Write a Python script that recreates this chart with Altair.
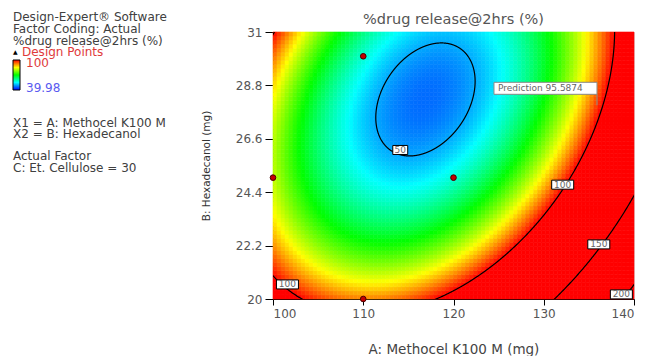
import numpy as np
import pandas as pd
import altair as alt

alt.data_transformers.disable_max_rows()

# Fitted quadratic model for %drug release@2hrs in coded factors
# a = (A - 110) / 10, b = (B - 25) / 5, Et. Cellulose held at 30
A_CENTER, A_HALF = 110.0, 10.0
B_CENTER, B_HALF = 25.0, 5.0
coef_names = ["Intercept", "A", "B", "AB", "A^2", "B^2"]
coef_values = [56.08, -12.12, -17.40, -10.35, 13.63, 19.04]

# design points
design_A = [110, 100, 120, 110]
design_B = [30, 25, 25, 20]

# contour levels and their label anchors
contour_levels = [50, 100, 150, 200]
label_text = ["50", "100", "100", "150", "200"]
label_A = [114.1, 101.6, 132.1, 136.1, 138.6]
label_B = [26.14, 20.6, 24.71, 22.25, 20.19]

# flagged prediction
pred_A = 135.9
pred_B = 27.98
pred_value = 95.5874

x_ticks = [100, 110, 120, 130, 140]
y_ticks = [20, 22.2, 24.4, 26.6, 28.8, 31]
A_range = [100, 140]
B_range = [20, 31]

resp_min, resp_max = 39.98, 100
palette = ["#0000ff", "#00ffff", "#00ff00", "#ffff00", "#ff0000"]

FONT = "DejaVu Sans"


def predict(A, B):
    a = (np.asarray(A) - A_CENTER) / A_HALF
    b = (np.asarray(B) - B_CENTER) / B_HALF
    c = coef_values
    return c[0] + c[1] * a + c[2] * b + c[3] * a * b + c[4] * a * a + c[5] * b * b


# surface grid
nA, nB = 90, 66
a_edges = np.linspace(A_range[0], A_range[1], nA + 1)
b_edges = np.linspace(B_range[0], B_range[1], nB + 1)
rows = []
for i in range(nA):
    for j in range(nB):
        ac = 0.5 * (a_edges[i] + a_edges[i + 1])
        bc = 0.5 * (b_edges[j] + b_edges[j + 1])
        rows.append((a_edges[i], a_edges[i + 1], b_edges[j], b_edges[j + 1], float(predict(ac, bc))))
grid = pd.DataFrame(rows, columns=["A", "A_hi", "B", "B_hi", "value"])

# contour ellipses of the quadratic around its stationary point
c = coef_values
H = np.array([[2 * c[4], c[3]], [c[3], 2 * c[5]]])
ctr = np.linalg.solve(H, [-c[1], -c[2]])
f_min = c[0] + 0.5 * (c[1] * ctr[0] + c[2] * ctr[1])
theta = np.linspace(0, 2 * np.pi, 1441)
dx, dy = np.cos(theta), np.sin(theta)
qd = c[4] * dx * dx + c[3] * dx * dy + c[5] * dy * dy
parts = []
for lev in contour_levels:
    r = np.sqrt((lev - f_min) / qd)
    parts.append(pd.DataFrame({
        "A": A_CENTER + A_HALF * (ctr[0] + r * dx),
        "B": B_CENTER + B_HALF * (ctr[1] + r * dy),
        "level": lev,
        "idx": np.arange(len(theta)),
    }))
contours = pd.concat(parts, ignore_index=True)

xs = alt.Scale(domain=A_range, nice=False, zero=False)
ys = alt.Scale(domain=B_range, nice=False, zero=False)
x_axis = alt.Axis(values=x_ticks, title="A: Methocel K100 M (mg)",
                  labelExpr="'' + datum.value",
                  domainColor="black", tickColor="black", tickSize=6,
                  labelFont=FONT, labelFontSize=12, labelColor="#555", labelPadding=3,
                  titleFont=FONT, titleFontSize=13.5, titleFontWeight="normal",
                  titleColor="#444", titlePadding=23, grid=False)
y_axis = alt.Axis(values=y_ticks, title="B: Hexadecanol (mg)",
                  labelExpr="'' + datum.value",
                  domainColor="black", tickColor="black", tickSize=8,
                  labelFont=FONT, labelFontSize=12, labelColor="#555", labelPadding=3,
                  titleFont=FONT, titleFontSize=10.5, titleFontWeight="normal",
                  titleColor="#333", titlePadding=24, grid=False)

X = lambda f="A": alt.X(f"{f}:Q", scale=xs, axis=x_axis)
Y = lambda f="B": alt.Y(f"{f}:Q", scale=ys, axis=y_axis)

cscale = alt.Scale(domain=list(np.linspace(resp_min, resp_max, len(palette))),
                   range=palette, clamp=True, interpolate="rgb")

# cells are outlined in their own fill colour so no seams show between them
heat = alt.Chart(grid).mark_rect(
    strokeWidth=0.6, stroke=alt.expr("scale('color', datum.value)")
).encode(
    x=X(), x2="A_hi", y=Y(), y2="B_hi",
    color=alt.Color("value:Q", scale=cscale,
                    legend=alt.Legend(type="gradient", orient="none",
                                      legendX=-260, legendY=28,
                                      direction="vertical", gradientLength=30,
                                      gradientThickness=7, labelOpacity=0,
                                      labelFontSize=1, title=None,
                                      gradientStrokeColor="black", gradientStrokeWidth=1,
                                      padding=0)),
)

lines = alt.Chart(contours).mark_line(color="black", strokeWidth=1.2, clip=True).encode(
    x=X(), y=Y(), detail="level:N", order="idx:Q"
)

pts = alt.Chart(pd.DataFrame({"A": design_A, "B": design_B})).mark_point(
    filled=True, shape="circle", size=32, fill="#c40000", stroke="#4a0000",
    strokeWidth=1, opacity=1
).encode(x=X(), y=Y())

labels = pd.DataFrame({"A": label_A, "B": label_B, "t": label_text})
labels["wide"] = labels["t"].str.len() > 2
box_wide = "M-1,-0.41 L1,-0.41 L1,0.41 L-1,0.41 Z"
box_narrow = "M-0.68,-0.41 L0.68,-0.41 L0.68,0.41 L-0.68,0.41 Z"
lab_boxes_w = alt.Chart(labels[labels["wide"]]).mark_point(
    shape=box_wide, size=484, filled=True, fill="white", stroke="black",
    strokeWidth=1, opacity=1
).encode(x=X(), y=Y())
lab_boxes_n = alt.Chart(labels[~labels["wide"]]).mark_point(
    shape=box_narrow, size=484, filled=True, fill="white", stroke="black",
    strokeWidth=1, opacity=1
).encode(x=X(), y=Y())
lab_text = alt.Chart(labels).mark_text(
    font=FONT, fontSize=9, color="#666", baseline="middle", align="center"
).encode(x=X(), y=Y(), text="t:N")

pred = pd.DataFrame({"A": [pred_A], "B": [pred_B],
                     "t": [f"Prediction  {pred_value:.4f}"]})
flag_path = "M-1.873,-0.418 L0,-0.418 L0,-0.2 L-1.873,-0.2 Z M0,-0.2 L0,0"
pred_box = alt.Chart(pred).mark_point(
    shape=flag_path, size=12100, filled=True, fill="white", stroke="#888",
    strokeWidth=1, opacity=1
).encode(x=X(), y=Y())
pred_text = alt.Chart(pred).mark_text(
    font=FONT, fontSize=9, color="#666", baseline="middle", align="left",
    dx=-99, dy=-17
).encode(x=X(), y=Y(), text="t:N")


def note(text, x, y, color="#404040", size=12, align="left"):
    return alt.Chart(pd.DataFrame({"t": [text]})).mark_text(
        font=FONT, fontSize=size, color=color, align=align, baseline="alphabetic"
    ).encode(x=alt.value(x), y=alt.value(y), text="t:N")


LX = -260
notes = [
    note("%drug release@2hrs (%)", 180.5, -8, color="#555", size=14.5, align="center"),
    note("Design-Expert\u00ae Software", LX, -11),
    note("Factor Coding: Actual", LX, 1),
    note("%drug release@2hrs (%)", LX, 13),
    note("\u25b2", LX, 22, color="#000", size=6),
    note("Design Points", LX + 9, 24, color="#e03a3a"),
    note(f"{resp_max:g}", LX + 13, 35, color="#e03a3a"),
    note(f"{resp_min:g}", LX + 13, 60, color="#5a5af0"),
    note("X1 = A: Methocel K100 M", LX, 95),
    note("X2 = B: Hexadecanol", LX, 106),
    note("Actual Factor", LX, 128),
    note("C: Et. Cellulose = 30", LX, 140),
]

chart = alt.layer(
    heat, lines, pts, lab_boxes_w, lab_boxes_n, lab_text, pred_box, pred_text, *notes
).properties(
    width=361, height=267,
    padding={"left": 273, "top": 32, "right": 13, "bottom": 57},
    autosize=alt.AutoSizeParams(type="none"),
).configure_view(stroke="#666", strokeWidth=1).configure(background="white")

chart.save("out.html", embed_options={"renderer": "svg", "actions": False})
